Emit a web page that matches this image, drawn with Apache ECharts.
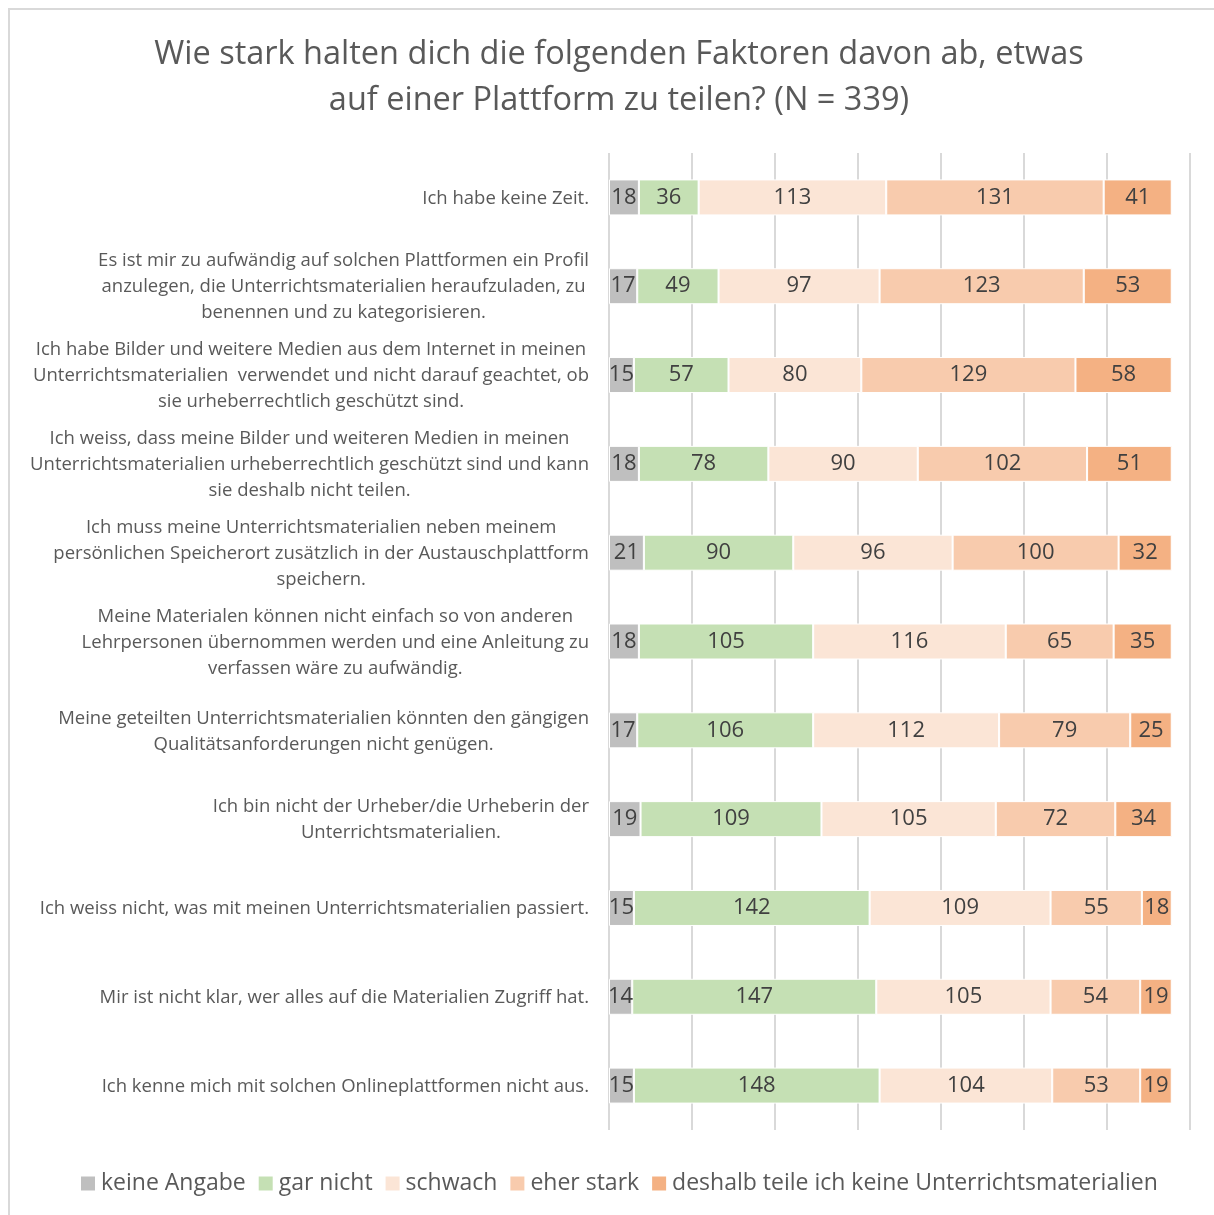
<!DOCTYPE html>
<html>
<head>
<meta charset="utf-8">
<script src="https://cdn.jsdelivr.net/npm/echarts@6/dist/echarts.min.js"></script>
<style>
html, body { margin: 0; padding: 0; background: #fff; }
#chart { width: 1214px; height: 1215px; }
</style>
</head>
<body>
<div id="chart"></div>
<script>
var categories = [
    'Ich habe keine Zeit.',
    'Es ist mir zu aufwändig auf solchen Plattformen ein Profil\nanzulegen, die Unterrichtsmaterialien heraufzuladen, zu\nbenennen und zu kategorisieren.',
    'Ich habe Bilder und weitere Medien aus dem Internet in meinen\nUnterrichtsmaterialien  verwendet und nicht darauf geachtet, ob\nsie urheberrechtlich geschützt sind.',
    'Ich weiss, dass meine Bilder und weiteren Medien in meinen\nUnterrichtsmaterialien urheberrechtlich geschützt sind und kann\nsie deshalb nicht teilen.',
    'Ich muss meine Unterrichtsmaterialien neben meinem\npersönlichen Speicherort zusätzlich in der Austauschplattform\nspeichern.',
    'Meine Materialen können nicht einfach so von anderen\nLehrpersonen übernommen werden und eine Anleitung zu\nverfassen wäre zu aufwändig.',
    'Meine geteilten Unterrichtsmaterialien könnten den gängigen\nQualitätsanforderungen nicht genügen.',
    'Ich bin nicht der Urheber/die Urheberin der\nUnterrichtsmaterialien.',
    'Ich weiss nicht, was mit meinen Unterrichtsmaterialien passiert.',
    'Mir ist nicht klar, wer alles auf die Materialien Zugriff hat.',
    'Ich kenne mich mit solchen Onlineplattformen nicht aus.'
];
var seriesNames = ['keine Angabe', 'gar nicht', 'schwach', 'eher stark', 'deshalb teile ich keine Unterrichtsmaterialien'];
var keineAngabe = [18, 17, 15, 18, 21, 18, 17, 19, 15, 14, 15];
var garNicht = [36, 49, 57, 78, 90, 105, 106, 109, 142, 147, 148];
var schwach = [113, 97, 80, 90, 96, 116, 112, 105, 109, 105, 104];
var eherStark = [131, 123, 129, 102, 100, 65, 79, 72, 55, 54, 53];
var deshalb = [41, 53, 58, 51, 32, 35, 25, 34, 18, 19, 19];
var colors = ['#bfbfbf', '#c5e0b4', '#fbe5d6', '#f8cbad', '#f4b183'];

var font = '"Open Sans", "Noto Sans", sans-serif';
var allValues = [keineAngabe, garNicht, schwach, eherStark, deshalb];

var series = seriesNames.map(function (name, i) {
    return {
        name: name,
        type: 'bar',
        stack: 'total',
        barWidth: 36,
        data: allValues[i],
        itemStyle: { color: colors[i], borderColor: '#fff', borderWidth: 1 },
        label: {
            show: true,
            position: 'inside',
            color: '#404040',
            fontSize: 22,
            fontFamily: font
        },
        emphasis: { disabled: true }
    };
});

var option = {
    animation: false,
    backgroundColor: '#fff',
    title: {
        text: 'Wie stark halten dich die folgenden Faktoren davon ab, etwas\nauf einer Plattform zu teilen? (N = 339)',
        left: 614,
        textAlign: 'center',
        top: 27,
        textStyle: {
            fontSize: 32.5,
            fontWeight: 'normal',
            color: '#595959',
            fontFamily: font,
            lineHeight: 46
        }
    },
    graphic: [{
        type: 'rect',
        shape: { x: 9, y: 9, width: 1260, height: 1260 },
        style: { fill: 'none', stroke: '#d9d9d9', lineWidth: 2 },
        silent: true
    }],
    legend: {
        bottom: 15,
        left: 74,
        icon: 'rect',
        itemWidth: 16,
        itemHeight: 16,
        itemGap: 11,
        textStyle: { fontSize: 23, color: '#595959', fontFamily: font },
        data: seriesNames
    },
    grid: {
        left: 609,
        right: 24,
        top: 153,
        bottom: 85,
        containLabel: false
    },
    xAxis: {
        type: 'value',
        min: 0,
        max: 350,
        interval: 50,
        axisLabel: { show: false },
        axisLine: { show: false },
        axisTick: { show: false },
        splitLine: { show: true, lineStyle: { color: '#d9d9d9', width: 2 } }
    },
    yAxis: {
        type: 'category',
        inverse: true,
        data: categories,
        axisLine: { show: false },
        axisTick: { show: false },
        axisLabel: {
            margin: 20,
            align: 'right',
            color: '#595959',
            fontSize: 18.5,
            fontFamily: font,
            lineHeight: 26,
            padding: [2, 0, 0, 0],
            formatter: function (v) {
                return v.split('\n').map(function (l) { return '{c|' + l + '}'; }).join('\n');
            },
            rich: {
                c: { align: 'center', color: '#595959', fontSize: 18.5, fontFamily: font, lineHeight: 26 }
            }
        }
    },
    series: series
};

var chart = echarts.init(document.getElementById('chart'));
chart.setOption(option);
</script>
</body>
</html>
